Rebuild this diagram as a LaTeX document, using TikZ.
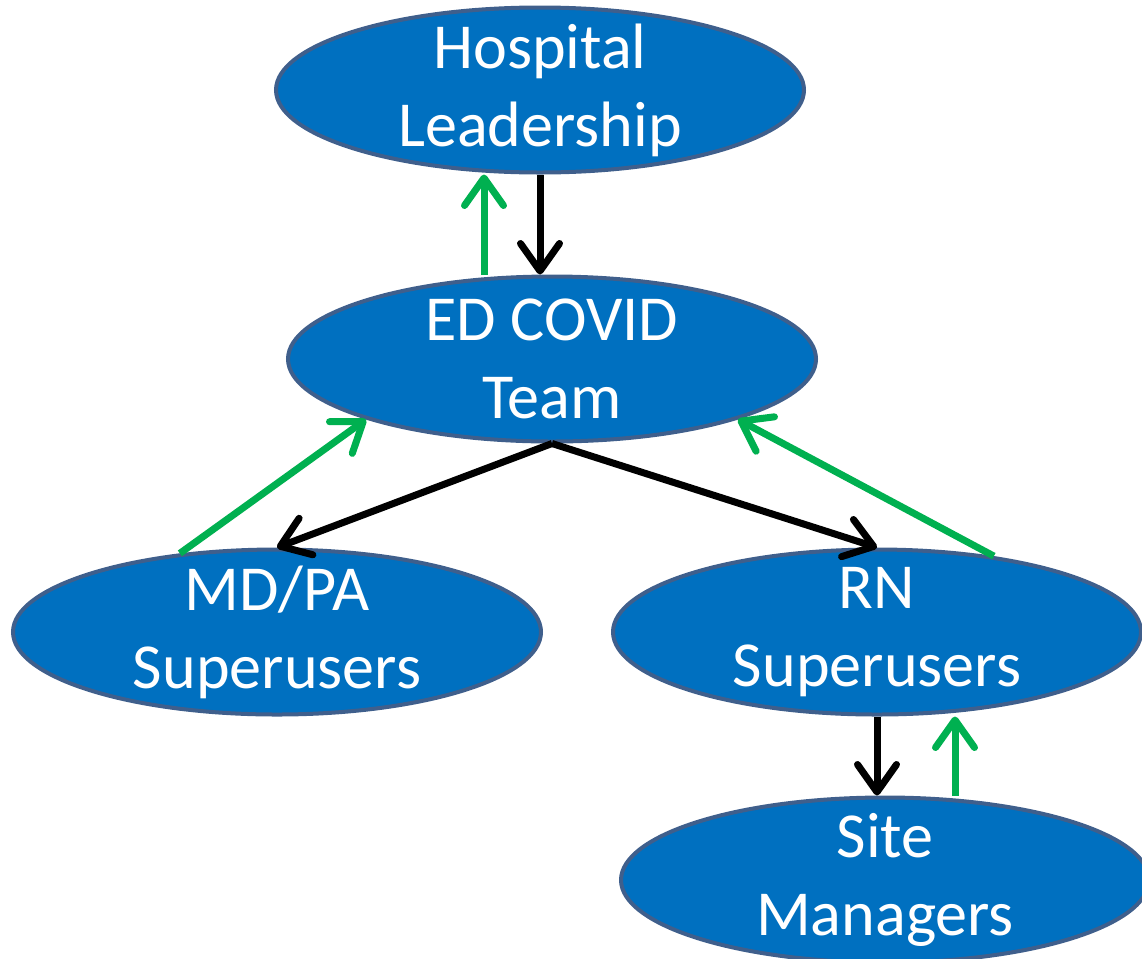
\documentclass[tikz,border=0pt]{standalone}
\usepackage{fontspec}
\setmainfont{Carlito}
\usepackage{tikz}
\usetikzlibrary{arrows.meta,shapes.geometric}
\usetikzlibrary{positioning}
\definecolor{unitblue}{HTML}{0070C0}
\definecolor{unitedge}{HTML}{3F5F8C}
\definecolor{upgreen}{HTML}{00B050}
\tikzset{>={Straight Barb[length=0.55cm,width=0.78cm,round]}}

\begin{document}
\begin{tikzpicture}[unit/.style={ellipse, draw=unitedge, line width=0.08cm, fill=unitblue, text=white, inner xsep=0pt, inner ysep=-0.35cm, minimum width=10.56cm, minimum height=3.3cm, align=center, font=\fontsize{36.5pt}{44.5pt}\selectfont}, down/.style={->, line width=0.14cm, black}, up/.style={->, line width=0.14cm, upgreen}, on grid]
	\useasboundingbox (0,0) rectangle (22.84,-19.16);
	\node[unit] (hl) at (10.8,-1.8) {Hospital\\Leadership};
	\node[unit] (ed) [below right=5.38cm and 0.24cm of hl] {ED COVID\\Team};
	\node[unit] (md) [below left=5.46cm and 5.5cm of ed] {MD/PA\\Superusers};
	\node[unit] (rn) [below right=5.46cm and 6.5cm of ed] {RN\\Superusers};
	\node[unit] (sm) [below right=4.96cm and 0.16cm of rn] {Site\\Managers};

	% reporting lines
	\draw[down] (hl.south) -- (hl.south |- ed.north);
	\draw[down] (ed.south) -- (md.north);
	\draw[down] (ed.south) -- (rn.north);
	\draw[down] (rn.south) -- (rn.south |- sm.north);

	% feedback lines
	\draw[up] ([xshift=-1.12cm]hl.south |- ed.north) -- ([xshift=-1.12cm]hl.south);
	\draw[up] (md.141) -- (ed.198);
	\draw[up] (rn.33) -- (ed.-18);
	\draw[up] ([xshift=1.56cm]rn.south |- sm.north) -- ([xshift=1.56cm]rn.south);
\end{tikzpicture}
\end{document}
